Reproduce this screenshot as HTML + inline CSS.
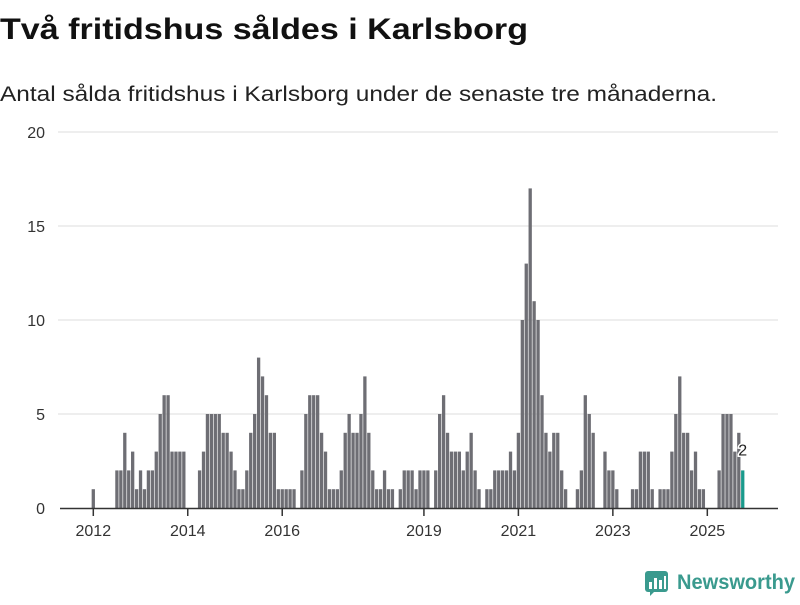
<!DOCTYPE html>
<html><head><meta charset="utf-8"><style>
body{margin:0;background:#fff;width:800px;height:600px;overflow:hidden;font-family:"Liberation Sans",sans-serif}
</style></head><body>
<svg id="chart" width="800" height="600" viewBox="0 0 800 600" xmlns="http://www.w3.org/2000/svg" font-family="Liberation Sans, sans-serif">
<text x="0" y="39" font-size="30" font-weight="bold" fill="#111" textLength="528" lengthAdjust="spacingAndGlyphs">Två fritidshus såldes i Karlsborg</text>
<text x="0" y="101" font-size="21" fill="#222" textLength="717" lengthAdjust="spacingAndGlyphs">Antal sålda fritidshus i Karlsborg under de senaste tre månaderna.</text>
<g id="grid"></g>
<g id="bars"></g>
<g id="xaxis"></g>
<g>
<rect x="645" y="571" width="23" height="21" rx="3" fill="#3a9a8e"/>
<path d="M650 596 L650 590 L656 590 Z" fill="#3a9a8e"/>
<rect x="649" y="582" width="3" height="7" fill="#fff"/><rect x="654" y="578" width="3" height="11" fill="#fff"/><rect x="659" y="580" width="3" height="9" fill="#fff"/><rect x="664" y="576" width="2" height="13" fill="#fff"/>
<text x="677" y="589" font-size="21" fill="#3a9a8e" font-weight="bold" textLength="118" lengthAdjust="spacingAndGlyphs">Newsworthy</text>
</g>
</svg>
<script>
const values = [1,0,0,0,0,0,2,2,4,2,3,1,
2,1,2,2,3,5,6,6,3,3,3,3,
0,0,0,2,3,5,5,5,5,4,4,3,
2,1,1,2,4,5,8,7,6,4,4,1,
1,1,1,1,0,2,5,6,6,6,4,3,
1,1,1,2,4,5,4,4,5,7,4,2,
1,1,2,1,1,0,1,2,2,2,1,2,
2,2,0,2,5,6,4,3,3,3,2,3,
4,2,1,0,1,1,2,2,2,2,3,2,
4,10,13,17,11,10,6,4,3,4,4,2,
1,0,0,1,2,6,5,4,0,0,3,2,
2,1,0,0,0,1,1,3,3,3,1,0,
1,1,1,3,5,7,4,4,2,3,1,1,
0,0,0,2,5,5,5,3,4,2];
const yTicks = [0,5,10,15,20];
const yearLabels = ["2012","2014","2016","2019","2021","2023","2025"];
const NS="http://www.w3.org/2000/svg";
function xScale(i){return 93.3+i*3.936;}
function yScale(v){return 508-v*18.8;}
function mk(t,a,p){const e=document.createElementNS(NS,t);for(const k in a)e.setAttribute(k,a[k]);p.appendChild(e);return e;}
const grid=document.getElementById('grid'),bars=document.getElementById('bars'),xa=document.getElementById('xaxis');
yTicks.forEach(v=>{
 if(v>0){const l=mk('line',{x1:58,x2:778,y1:yScale(v),y2:yScale(v),stroke:'#dddddd','stroke-width':1},grid);
 
 }
 const t=mk('text',{x:45,y:yScale(v)+6,'text-anchor':'end','font-size':16,fill:'#333'},grid);
 t.textContent=v;
 
 
});
values.forEach((v,i)=>{
 if(v<=0)return;
 const last=i===values.length-1;
 const r=mk('rect',{x:xScale(i)-1.65,y:yScale(v),width:3.3,height:v*18.8,fill:last?'#1a9a8c':'#6e6e74'},bars);
 
 
});
const li=values.length-1;
const lab=mk('text',{x:xScale(li),y:yScale(values[li])-15,'text-anchor':'middle','font-size':16,fill:'#222',stroke:'#fff','stroke-width':3,'paint-order':'stroke'},bars);
lab.textContent=values[li];


const ax=mk('line',{x1:60,x2:778,y1:508.5,y2:508.5,stroke:'#333','stroke-width':1.5},xa);


yearLabels.forEach(y=>{
 const x=xScale((+y-2012)*12);
 const tk=mk('line',{x1:x,x2:x,y1:508,y2:516,stroke:'#333','stroke-width':1.5},xa);
 
 
 const t=mk('text',{x:x,y:536,'text-anchor':'middle','font-size':16,fill:'#333'},xa);
 t.textContent=y;
 
 
});
</script>
</body></html>
